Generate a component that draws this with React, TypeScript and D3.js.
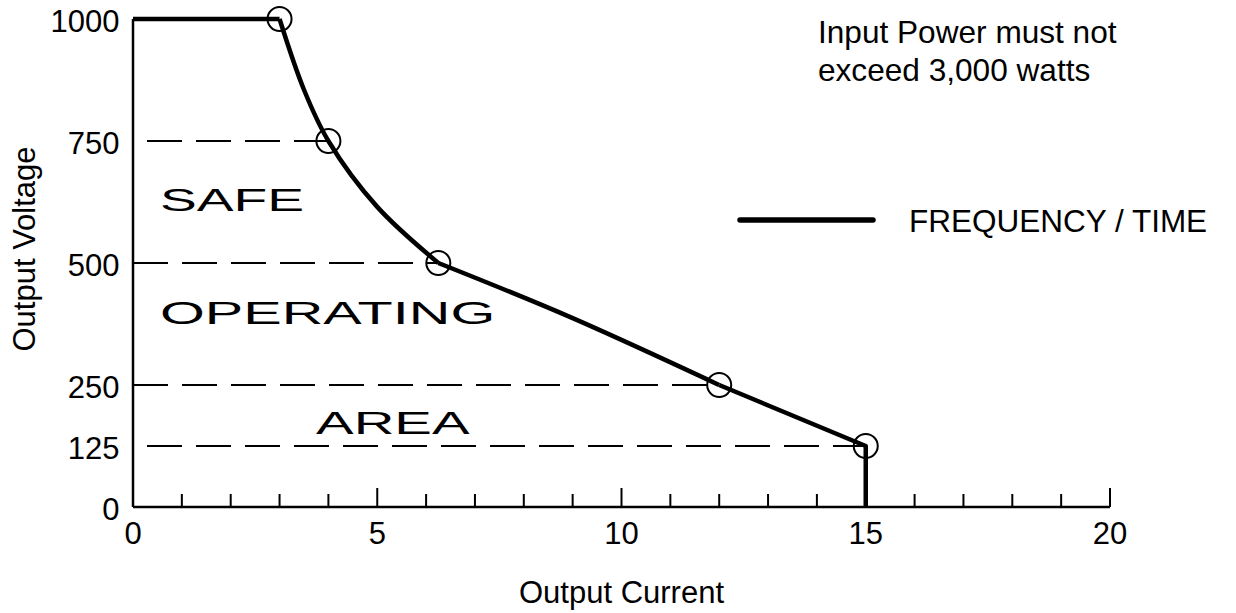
import React from "react";
import * as d3 from "d3";

// ---- data ----
const xDomain = [0, 20];
const yDomain = [0, 1000];
const xTickLabels = [0, 5, 10, 15, 20];
const yTickLabels = [1000, 750, 500, 250, 125, 0];

// limit curve pieces (current, voltage)
const flatPart: [number, number][] = [[0, 1000], [3, 1000]];
const powerCurve: [number, number][] = [[3, 1000], [3.5, 855], [4, 750], [5, 615], [6.25, 500]];
const lowerCurve: [number, number][] = [[6.25, 500], [9, 387], [12, 250]];
const tailPart: [number, number][] = [[12, 250], [15, 125], [15, 0]];

// circled break points
const markerCurrents = [3, 4, 6.25, 12, 15];
const markerVoltages = [1000, 750, 500, 250, 125];

// dashed guides: level and where they end
const guideLevels = [750, 500, 250, 125];
const guideEnds = [4, 6.25, 12, 15];
const guideStartsWithGap = [true, false, false, true];

const W = 1236;
const H = 613;
const FONT = "'Liberation Sans', Arial, Helvetica, sans-serif";

export default function App() {
  const x = d3.scaleLinear().domain(xDomain).range([133, 1110]);
  const y = d3.scaleLinear().domain(yDomain).range([507, 19]);

  const straight = d3.line<[number, number]>().x(d => x(d[0])).y(d => y(d[1]));
  const smooth = d3
    .line<[number, number]>()
    .x(d => x(d[0]))
    .y(d => y(d[1]))
    .curve(d3.curveCatmullRom.alpha(0.5));
  const bow = d3
    .line<[number, number]>()
    .x(d => x(d[0]))
    .y(d => y(d[1]))
    .curve(d3.curveNatural);

  const ticks = x.ticks(20).filter(t => t > 0);

  return (
    <svg
      width={W}
      height={H}
      viewBox={`0 0 ${W} ${H}`}
      style={{ position: "absolute", left: 0, top: 0, background: "#fff" }}
      fontFamily={FONT}
    >
      {/* dashed guides */}
      {guideLevels.map((lv, i) => (
        <line
          key={lv}
          x1={x(0)}
          x2={x(guideEnds[i])}
          y1={y(lv)}
          y2={y(lv)}
          stroke="#000"
          strokeWidth={2}
          strokeDasharray="35,14"
          strokeDashoffset={guideStartsWithGap[i] ? 35 : 0}
        />
      ))}

      {/* axes */}
      <line x1={x(0)} x2={x(0)} y1={y(0)} y2={y(1000)} stroke="#000" strokeWidth={2.5} />
      <line x1={x(0)} x2={x(20)} y1={y(0)} y2={y(0)} stroke="#000" strokeWidth={2.5} />
      {ticks.map(t => (
        <line
          key={t}
          x1={x(t)}
          x2={x(t)}
          y1={y(0)}
          y2={y(0) - (t % 5 === 0 ? 19 : 13)}
          stroke="#000"
          strokeWidth={2}
        />
      ))}

      {/* tick labels */}
      {xTickLabels.map(t => (
        <text key={t} x={x(t)} y={543.5} fontSize={31} textAnchor="middle" fill="#000">
          {t}
        </text>
      ))}
      {yTickLabels.map(t => (
        <text key={t} x={119.5} y={y(t) + 13} fontSize={31} textAnchor="end" fill="#000">
          {t}
        </text>
      ))}

      {/* axis titles */}
      <text x={x(10)} y={603} fontSize={31} textAnchor="middle" fill="#000">
        Output Current
      </text>
      <text
        transform={`translate(35, 249) rotate(-90)`}
        fontSize={31}
        textAnchor="middle"
        fill="#000"
      >
        Output Voltage
      </text>

      {/* limit curve */}
      <g fill="none" stroke="#000" strokeWidth={4.5} strokeLinejoin="round">
        <path d={straight(flatPart) || ""} />
        <path d={smooth(powerCurve) || ""} />
        <path d={bow(lowerCurve) || ""} />
        <path d={straight(tailPart) || ""} />
      </g>

      {/* markers */}
      {markerCurrents.map((c, i) => (
        <circle key={c} cx={x(c)} cy={y(markerVoltages[i])} r={12} fill="none" stroke="#000" strokeWidth={2} />
      ))}

      {/* region labels (wide lettering) */}
      <g fontSize={31} fill="#000">
        <text transform="translate(160,210.5) scale(1.78,1)">SAFE</text>
        <text transform="translate(160,324) scale(1.86,1)">OPERATING</text>
        <text transform="translate(316,434) scale(1.82,1)">AREA</text>
      </g>

      {/* note */}
      <text fontSize={31.6} fill="#000">
        <tspan x={818} y={42.5}>Input Power must not</tspan>
        <tspan x={818} y={81}>exceed 3,000 watts</tspan>
      </text>

      {/* legend */}
      <line x1={740} x2={873} y1={220} y2={220} stroke="#000" strokeWidth={5.5} strokeLinecap="round" />
      <text x={909} y={232.3} fontSize={31.5} fill="#000">
        FREQUENCY / TIME
      </text>
    </svg>
  );
}
